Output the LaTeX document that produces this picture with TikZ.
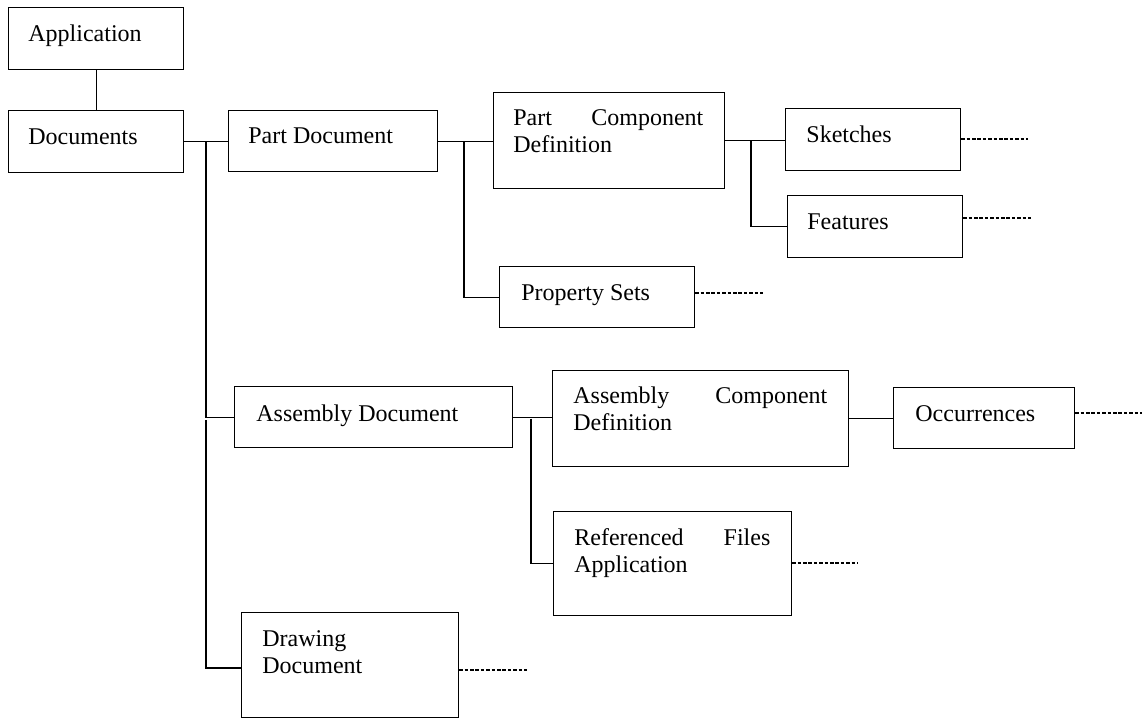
\documentclass[tikz,border=0pt]{standalone}
\usepackage{fontspec}
\setmainfont{Liberation Serif}
\usetikzlibrary{calc}
\begin{document}
\begin{tikzpicture}[x=0.5pt,y=-0.5pt,
  box/.style={draw, line width=0.6pt, inner sep=0pt, anchor=north west},
  lbl/.style={inner sep=0pt, anchor=base west, font=\fontsize{12}{13.5}\selectfont, align=left},
  link/.style={line width=0.6pt},
  cont/.style={line width=0.55pt, dash pattern=on 1.8pt off 0.9pt}]
\useasboundingbox (0,0) rectangle (1142,720);

% boxes
\node[box, minimum width=87.5pt, minimum height=31pt]   (app)     at (8,7) {};
\node[box, minimum width=87.5pt, minimum height=31pt]   (docs)    at (8,110) {};
\node[box, minimum width=104.5pt, minimum height=30.5pt] (partdoc) at (228,110) {};
\node[box, minimum width=115.5pt, minimum height=48pt]  (pcd)     at (493,92) {};
\node[box, minimum width=87.5pt, minimum height=31pt]   (sketch)  at (785,108) {};
\node[box, minimum width=87.5pt, minimum height=31pt]   (feat)    at (787,195) {};
\node[box, minimum width=97.5pt, minimum height=30.5pt] (props)   at (499,266) {};
\node[box, minimum width=139pt, minimum height=30.5pt]  (asmdoc)  at (234,386) {};
\node[box, minimum width=148pt, minimum height=48pt]    (acd)     at (552,370) {};
\node[box, minimum width=90.5pt, minimum height=30.5pt] (occ)     at (893,387) {};
\node[box, minimum width=119pt, minimum height=52pt]    (ref)     at (553,511) {};
\node[box, minimum width=108.5pt, minimum height=52.5pt] (drw)    at (241,612) {};

% labels
\node[lbl] (appT)     at (28,41)   {Application};
\node[lbl] (docsT)    at (28,144)  {Documents};
\node[lbl] (partdocT) at (248,143) {Part Document};
\node[lbl, text width=95pt] (pcdT) at (513,125) {Part\hfill Component\\Definition};
\node[lbl] (sketchT)  at (806,142) {Sketches};
\node[lbl] (featT)    at (807,229) {Features};
\node[lbl] (propsT)   at (521,300) {Property Sets};
\node[lbl] (asmdocT)  at (256,421) {Assembly Document};
\node[lbl, text width=127pt] (acdT) at (573,403) {Assembly\hfill Component\\Definition};
\node[lbl] (occT)     at (915,421) {Occurrences};
\node[lbl, text width=98pt] (refT) at (574,545) {Referenced\hfill Files\\Application};
\node[lbl, text width=70pt] (drwT) at (262,646) {Drawing\\Document};

% junction columns
\coordinate (ja) at (206,0);
\coordinate (jb) at (464,0);
\coordinate (jc) at (751,0);
\coordinate (jd) at (531,0);
\coordinate (drwIn) at (241,668);

% solid connectors
\draw[link] (app.south) -- (docs.north);
\draw[link] (docs.east) -- (docs.east -| partdoc.west);
\draw[link] (ja |- docs.east) -- (ja |- asmdoc.west) -- (asmdoc.west);
\draw[link] ($(ja |- asmdoc.west)+(0,3)$) -- (ja |- drwIn) -- (drwIn);
\draw[link] (partdoc.east) -- (partdoc.east -| pcd.west);
\draw[link] (jb |- partdoc.east) -- (jb |- props.west) -- (props.west);
\draw[link] (pcd.east) -- (pcd.east -| sketch.west);
\draw[link] (jc |- pcd.east) -- (jc |- feat.west) -- (feat.west);
\draw[link] (asmdoc.east) -- (asmdoc.east -| acd.west);
\draw[link] (jd |- acd.west) -- (jd |- ref.west) -- (ref.west);
\draw[link] (acd.east) -- (acd.east -| occ.west);

% dashed continuations
\coordinate (sketchOut) at (1028,139);
\coordinate (featOut)   at (1031,218);
\coordinate (propsOut)  at (763,293);
\coordinate (occOut)    at (1142,413);
\coordinate (refOut)    at (858,563);
\coordinate (drwOut)    at (527,670);
\draw[cont] (sketch.east |- sketchOut) -- (sketchOut);
\draw[cont] (feat.east |- featOut) -- (featOut);
\draw[cont] (props.east |- propsOut) -- (propsOut);
\draw[cont] (occ.east |- occOut) -- (occOut);
\draw[cont] (ref.east |- refOut) -- (refOut);
\draw[cont] (drw.east |- drwOut) -- (drwOut);
\end{tikzpicture}
\end{document}
